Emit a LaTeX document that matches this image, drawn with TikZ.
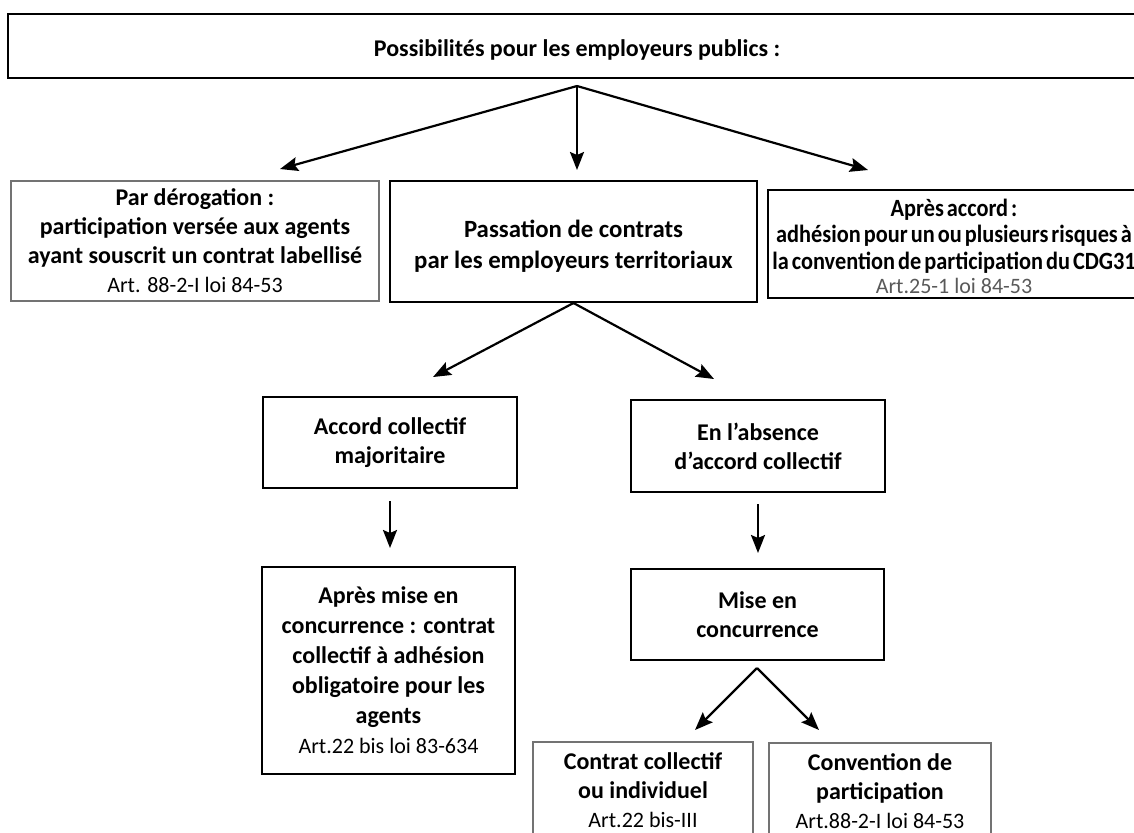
\documentclass[tikz,border=0pt]{standalone}
\usepackage{fontspec}
\setmainfont{Carlito}
\newfontfamily\etroitfont[FakeStretch=0.9, WordSpace=0.6]{Carlito}
\usetikzlibrary{arrows.meta}

\newcommand{\art}[1]{{\normalfont\fontsize{11}{14}\selectfont #1}}

\begin{document}
\begin{tikzpicture}[x=0.5pt, y=-0.5pt,
    boite/.style={draw, line width=1pt, align=center, inner sep=2pt,
        font=\bfseries\fontsize{12}{14.5}\selectfont},
    fine/.style={draw=black!55, line width=0.6pt},
    etroit/.style={font=\etroitfont\bfseries\fontsize{12.4}{13.2}\selectfont},
    fleche/.style={-{Stealth[length=9pt, width=7pt, inset=1.5pt]}, line width=1.1pt}]
    \useasboundingbox (0,0) rectangle (1134,832);
    \clip (0,0) rectangle (1134,832);
    \fill[white] (0,0) rectangle (1134,832);

    % titre
    \node[boite, line width=1.3pt, minimum width=569pt, minimum height=32pt]
        (titre) at (577,46) {\rule{0pt}{12pt}Possibilités pour les employeurs publics :};

    % premier niveau
    \node[boite, fine, minimum width=184pt, minimum height=60pt] (derog) at (195,241)
        {Par dérogation :\\ participation versée aux agents\\ ayant souscrit un contrat labellisé\\
         \art{Art. 88-2-I loi 84-53}};
    \node[boite, font=\bfseries\fontsize{12.4}{15.5}\selectfont, minimum width=183.5pt, minimum height=60.5pt]
        (passation) at (573.5,241.5)
        {\rule{0pt}{13pt}Passation de contrats\\ par les employeurs territoriaux};
    \node[boite, etroit, line width=0.8pt, minimum width=183pt, minimum height=54pt] (accord) at (954,244)
        {\rule{0pt}{11pt}Après accord :\\ adhésion pour un ou plusieurs risques à\\ la convention de participation du CDG31\\[-1pt]
         \art{\color{black!65}Art.25-1 loi 84-53}};

    % second niveau
    \node[boite, minimum width=127pt, minimum height=45.5pt] (majoritaire) at (390,442.5)
        {Accord collectif\\ majoritaire};
    \node[boite, minimum width=127pt, minimum height=46pt] (absence) at (758,446)
        {En l’absence\\ d’accord collectif};
    \node[boite, font=\bfseries\fontsize{12}{15}\selectfont, minimum width=126.5pt, minimum height=103.5pt]
        (apresmise) at (388.5,670.5)
        {Après mise en\\ concurrence : contrat\\ collectif à adhésion\\ obligatoire pour les\\ agents\\
         \art{Art.22 bis loi 83-634}};
    \node[boite, minimum width=126.5pt, minimum height=45.5pt] (mise) at (757.5,614.5)
        {Mise en\\ concurrence};
    \node[boite, fine, minimum width=110pt, minimum height=48pt] (contrat) at (643,790)
        {Contrat collectif\\ ou individuel\\ \art{Art.22 bis-III}};
    \node[boite, fine, minimum width=111pt, minimum height=48pt] (convention) at (880,791)
        {Convention de\\ participation\\ \art{Art.88-2-I loi 84-53}};

    % points de depart et bouts des fleches
    \coordinate (h1) at (577,86);
    \coordinate (h2) at (757,668);
    \coordinate (p1) at (280,169);
    \coordinate (p2) at (577,170);
    \coordinate (p3) at (868,170);
    \coordinate (q1) at (433,377);
    \coordinate (q2) at (714,379);
    \coordinate (r1) at (390,548);
    \coordinate (r2) at (758,553);
    \coordinate (s1) at (695,730);
    \coordinate (s2) at (819,730);

    \draw[fleche] (h1) -- (p1);
    \draw[fleche] (h1) -- (p2);
    \draw[fleche] (h1) -- (p3);
    \draw[fleche] (passation.south) -- (q1);
    \draw[fleche] (passation.south) -- (q2);
    \draw[fleche, shorten <=6pt] (majoritaire.south) -- (r1);
    \draw[fleche, shorten <=5.5pt] (absence.south) -- (r2);
    \draw[fleche] (h2) -- (s1);
    \draw[fleche] (h2) -- (s2);
\end{tikzpicture}
\end{document}
